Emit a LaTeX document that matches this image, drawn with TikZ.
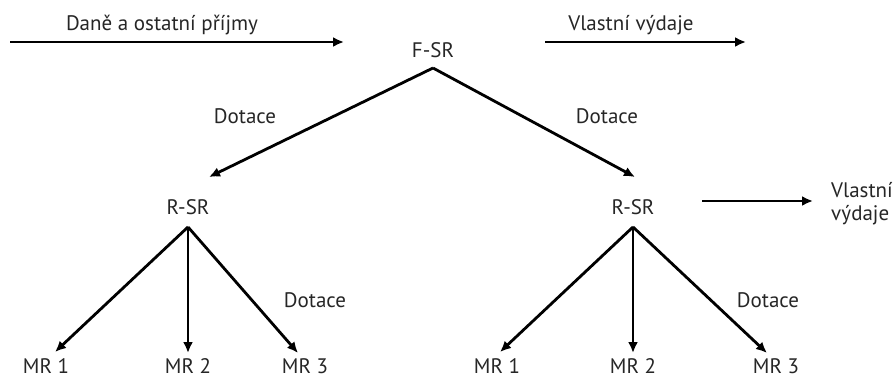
\documentclass[tikz,border=0pt]{standalone}
\usepackage{fontspec}
\setmainfont{PT Sans}
\usetikzlibrary{arrows.meta}
\definecolor{txt}{HTML}{262626}
\begin{document}
\begin{tikzpicture}[x=1pt,y=-1pt,
  lbl/.style={inner sep=0pt,text=txt,font=\fontsize{21}{23}\selectfont},
  conn/.style={line width=2.8pt,-{Latex[length=11pt,width=10pt]}}]
\useasboundingbox (0,0) rectangle (894,378);
% top
\node[lbl] (dane) at (162,25) {Daně a ostatní příjmy};
\node[lbl] (fsr) at (433,50) {F-SR};
\node[lbl] (vv1) at (631,25) {Vlastní výdaje};
\coordinate (a1s) at (10,42);
\coordinate (a1e) at (344,42);
\coordinate (a2s) at (545,42);
\coordinate (a2e) at (746,42);
\draw[conn] (a1s) -- (a1e);
\draw[conn] (a2s) -- (a2e);
\coordinate (fap) at (433,68);
% R-SR level
\node[lbl] (rsl) at (188,207) {R-SR};
\node[lbl] (rsr) at (633,207) {R-SR};
\coordinate (tipl) at (209,177);
\coordinate (tipr) at (635,177);
\draw[conn] (fap) -- (tipl);
\draw[conn] (fap) -- (tipr);
\node[lbl] (dl) at (245,116) {Dotace};
\node[lbl] (dr) at (607,116) {Dotace};
% right own expenses
\coordinate (a3s) at (702,201);
\coordinate (a3e) at (813,201);
\draw[conn] (a3s) -- (a3e);
\node[lbl,align=left,anchor=west] (vv2) at (831,204) {Vlastní\\výdaje};
% left subtree
\coordinate (lap) at (188,227);
\node[lbl] (lm1) at (46,366) {MR 1};
\node[lbl] (lm2) at (188,366) {MR 2};
\node[lbl] (lm3) at (305,366) {MR 3};
\coordinate (lt1) at (55,352);
\coordinate (lt2) at (188,353);
\coordinate (lt3) at (298,353);
\draw[conn] (lap) -- (lt1);
\draw[conn] (lap) -- (lt2);
\draw[conn] (lap) -- (lt3);
\node[lbl] (dl2) at (315,300) {Dotace};
% right subtree
\coordinate (rap) at (633,227);
\node[lbl] (rm1) at (497,366) {MR 1};
\node[lbl] (rm2) at (633,366) {MR 2};
\node[lbl] (rm3) at (776,366) {MR 3};
\coordinate (rt1) at (500,352);
\coordinate (rt2) at (633,353);
\coordinate (rt3) at (767,353);
\draw[conn] (rap) -- (rt1);
\draw[conn] (rap) -- (rt2);
\draw[conn] (rap) -- (rt3);
\node[lbl] (dr2) at (768,300) {Dotace};
\end{tikzpicture}
\end{document}
